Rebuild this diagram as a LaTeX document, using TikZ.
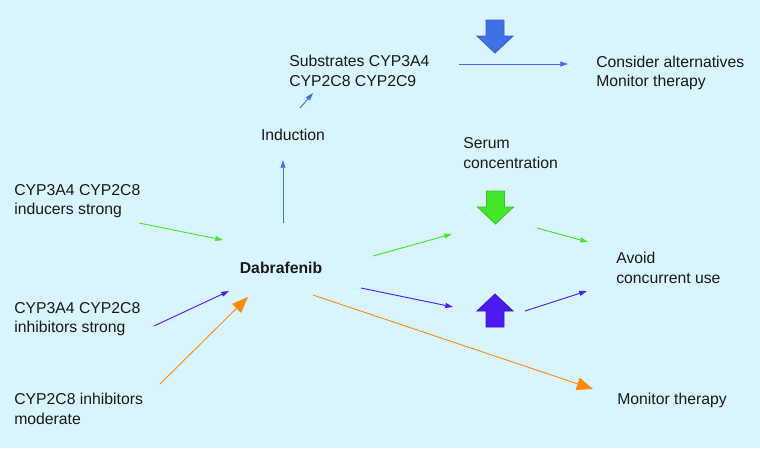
\documentclass[tikz,border=0pt]{standalone}
\usepackage{fontspec}
\setmainfont{Liberation Sans}
\usepackage{tikz}
\usetikzlibrary{arrows.meta}

\definecolor{bgcyan}{HTML}{D8F4FC}
\definecolor{arrblue}{HTML}{3F70E6}
\definecolor{arrgreen}{HTML}{44E62A}
\definecolor{arrpurple}{HTML}{4B1BEF}
\definecolor{arrorange}{HTML}{FF8A10}

\begin{document}
\begin{tikzpicture}[x=0.025cm,y=-0.025cm]

    \tikzset{TX/.style={inner sep=0pt,anchor=west,align=left,text=black!90,font=\fontsize{11.2}{13.9}\selectfont}}
    \tikzset{LN/.style={line width=0.65pt,-{Triangle[length=5.5pt,width=3.5pt]}}}
    \tikzset{BG/.style={line width=0.65pt,-{Triangle[length=11.5pt,width=9pt]}}}
    \tikzset{pics/fatdown/.style={code={
        \draw[line width=0.6pt,draw=#1!85!black,fill=#1] (-9,0) -- (9,0) -- (9,16) -- (18,16) -- (0,33) -- (-18,16) -- (-9,16) -- cycle;}}}

    \fill[bgcyan] (0,0) rectangle (760,448);
    \useasboundingbox (0,0) rectangle (760,448);

    \node (sub) [TX] at (289, 71) {Substrates CYP3A4\\CYP2C8 CYP2C9};
    \node (cons) [TX] at (596, 73) {Consider alternatives\\Monitor therapy};
    \node (ind) [TX,anchor=center] at (293, 135) {Induction};
    \node (serum) [TX] at (463, 153) {Serum\\concentration};
    \node (dab) [TX,anchor=center,font=\fontsize{11.2}{13.9}\selectfont\bfseries] at (281, 268) {Dabrafenib};
    \node (ind1) [TX] at (14, 201) {CYP3A4 CYP2C8\\inducers strong};
    \node (inh1) [TX] at (14, 319) {CYP3A4 CYP2C8\\inhibitors strong};
    \node (inh2) [TX] at (14, 409) {CYP2C8 inhibitors\\moderate};
    \node (avoid) [TX] at (616, 268) {Avoid\\concurrent use};
    \node (mon) [TX] at (617, 400) {Monitor therapy};

    % serum level arrows
    \pic at (495, 20) {fatdown=arrblue};
    \pic at (495.5, 191) {fatdown=arrgreen};
    \pic[rotate=180] at (495, 327) {fatdown=arrpurple};

    % ends of the connectors
    \coordinate (a1) at (283, 223); \coordinate (a2) at (283, 160);
    \coordinate (b1) at (300, 108); \coordinate (b2) at (313, 93);
    \coordinate (c1) at (459, 64);  \coordinate (c2) at (568, 64);
    \coordinate (d1) at (139, 223); \coordinate (d2) at (223, 240);
    \coordinate (e1) at (373, 256); \coordinate (e2) at (452, 234);
    \coordinate (f1) at (537, 228); \coordinate (f2) at (588, 242);
    \coordinate (g1) at (154, 326); \coordinate (g2) at (229, 291);
    \coordinate (h1) at (361, 288); \coordinate (h2) at (453, 307);
    \coordinate (i1) at (525, 311); \coordinate (i2) at (587, 291);
    \coordinate (j1) at (160, 384); \coordinate (j2) at (248, 297);
    \coordinate (k1) at (313, 295); \coordinate (k2) at (593, 389);

    \draw[LN,arrblue] (a1) -- (a2);
    \draw[LN,arrblue] (b1) -- (b2);
    \draw[LN,arrblue] (c1) -- (c2);
    \draw[LN,arrgreen] (d1) -- (d2);
    \draw[LN,arrgreen] (e1) -- (e2);
    \draw[LN,arrgreen] (f1) -- (f2);
    \draw[LN,arrpurple] (g1) -- (g2);
    \draw[LN,arrpurple] (h1) -- (h2);
    \draw[LN,arrpurple] (i1) -- (i2);
    \draw[BG,arrorange] (j1) -- (j2);
    \draw[BG,arrorange] (k1) -- (k2);
\end{tikzpicture}
\end{document}
